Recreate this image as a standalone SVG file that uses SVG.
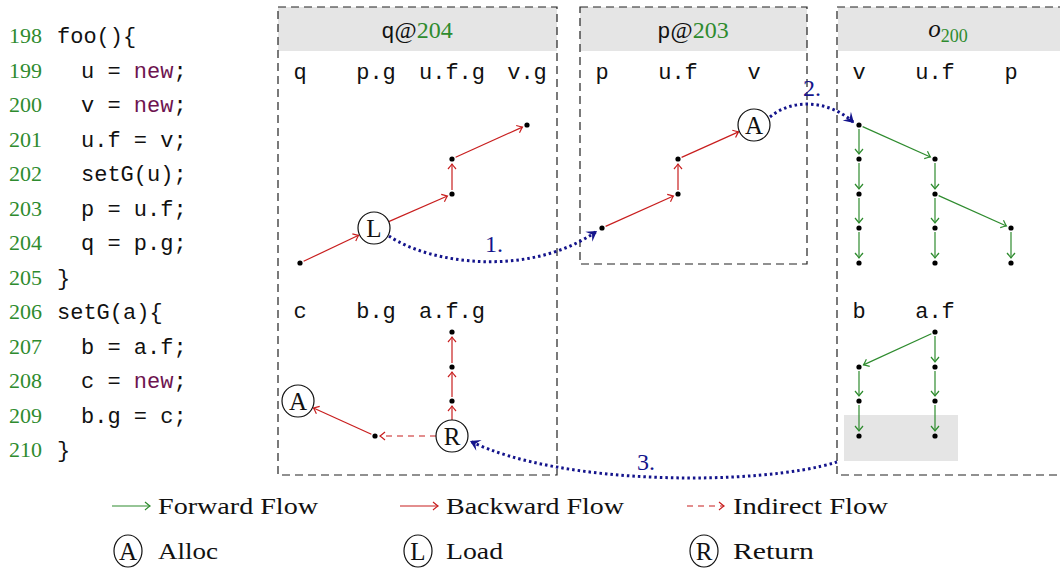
<svg xmlns="http://www.w3.org/2000/svg" width="1060" height="569" viewBox="0 0 1060 569">
<style>
.mono{font-family:"Liberation Mono","DejaVu Sans Mono",monospace;font-size:22px;fill:#111}
.serif{font-family:"Liberation Serif","DejaVu Serif",serif;font-size:24px;fill:#111}
.ln{font-family:"Liberation Serif",serif;font-size:22px;fill:#2e8b2e}
.kw{fill:#6e1450}
.grn{fill:#2e8b2e}
.panel{fill:none;stroke:#222;stroke-width:1.2;stroke-dasharray:8 5}
.hdr{fill:#e5e5e5}
.dot{fill:#000}
.circ{fill:#fff;stroke:#111;stroke-width:1.2}
.red{stroke:#c81e1e;stroke-width:1.2;fill:none;marker-end:url(#ar)}
.reddash{stroke:#c81e1e;stroke-width:1.2;fill:none;stroke-dasharray:6 5;marker-end:url(#ar)}
.green{stroke:#2e8b2e;stroke-width:1.2;fill:none;marker-end:url(#ag)}
.blue{stroke:#14148c;stroke-width:3;fill:none;stroke-dasharray:2.5 3;marker-end:url(#ab)}
.bl{font-family:"Liberation Serif",serif;font-size:24px;fill:#14148c}
.lg{font-family:"Liberation Serif",serif;font-size:24px;fill:#111}
.cl{font-family:"Liberation Serif",serif;font-size:25px;fill:#111;text-anchor:middle}
</style>
<defs>
<marker id="ar" markerUnits="userSpaceOnUse" markerWidth="12" markerHeight="12" viewBox="-8 -6 10 12" refX="0" refY="0" orient="auto">
<path d="M-5,-4 Q-1.5,-1 0,0 Q-1.5,1 -5,4" fill="none" stroke="#c81e1e" stroke-width="1.2"/>
</marker>
<marker id="ag" markerUnits="userSpaceOnUse" markerWidth="12" markerHeight="12" viewBox="-8 -6 10 12" refX="0" refY="0" orient="auto">
<path d="M-5,-4 Q-1.5,-1 0,0 Q-1.5,1 -5,4" fill="none" stroke="#2e8b2e" stroke-width="1.2"/>
</marker>
<marker id="ab" markerUnits="userSpaceOnUse" markerWidth="16" markerHeight="16" viewBox="-12 -8 14 16" refX="0" refY="0" orient="auto">
<path d="M0,0 L-10,-6 L-6,0 L-10,6 Z" fill="#14148c"/>
</marker>
</defs>

<g id="code">
<text class="ln" x="9" y="43">198</text><text class="mono" x="57" y="43">foo(){</text>
<text class="ln" x="9" y="77.5">199</text><text class="mono" x="81" y="77.5">u = <tspan class="kw">new</tspan>;</text>
<text class="ln" x="9" y="112">200</text><text class="mono" x="81" y="112">v = <tspan class="kw">new</tspan>;</text>
<text class="ln" x="9" y="146.5">201</text><text class="mono" x="81" y="146.5">u.f = v;</text>
<text class="ln" x="9" y="181">202</text><text class="mono" x="81" y="181">setG(u);</text>
<text class="ln" x="9" y="215.5">203</text><text class="mono" x="81" y="215.5">p = u.f;</text>
<text class="ln" x="9" y="250">204</text><text class="mono" x="81" y="250">q = p.g;</text>
<text class="ln" x="9" y="284.5">205</text><text class="mono" x="57" y="284.5">}</text>
<text class="ln" x="9" y="319">206</text><text class="mono" x="57" y="319">setG(a){</text>
<text class="ln" x="9" y="353.5">207</text><text class="mono" x="81" y="353.5">b = a.f;</text>
<text class="ln" x="9" y="388">208</text><text class="mono" x="81" y="388">c = <tspan class="kw">new</tspan>;</text>
<text class="ln" x="9" y="422.5">209</text><text class="mono" x="81" y="422.5">b.g = c;</text>
<text class="ln" x="9" y="457">210</text><text class="mono" x="57" y="457">}</text>
</g>

<g id="panel-q204">
<rect class="hdr" x="278" y="7" width="279" height="44"/>
<rect class="panel" x="278" y="7" width="279" height="468"/>
<text x="417" y="38" text-anchor="middle"><tspan class="mono">q</tspan><tspan class="serif">@</tspan><tspan class="serif grn">204</tspan></text>
<text class="mono" text-anchor="middle" x="300" y="79">q</text>
<text class="mono" text-anchor="middle" x="376" y="79">p.g</text>
<text class="mono" text-anchor="middle" x="452" y="79">u.f.g</text>
<text class="mono" text-anchor="middle" x="527" y="79">v.g</text>
<text class="mono" text-anchor="middle" x="300" y="318">c</text>
<text class="mono" text-anchor="middle" x="376" y="318">b.g</text>
<text class="mono" text-anchor="middle" x="452" y="318">a.f.g</text>
</g>

<g id="panel-p203">
<rect class="hdr" x="580" y="7" width="227" height="44"/>
<rect class="panel" x="580" y="7" width="227" height="257"/>
<text x="693" y="38" text-anchor="middle"><tspan class="mono">p</tspan><tspan class="serif">@</tspan><tspan class="serif grn">203</tspan></text>
<text class="mono" text-anchor="middle" x="602" y="79">p</text>
<text class="mono" text-anchor="middle" x="678" y="79">u.f</text>
<text class="mono" text-anchor="middle" x="754" y="79">v</text>
</g>

<g id="panel-o200">
<rect class="hdr" x="838" y="7" width="240" height="44"/>
<rect class="panel" x="837" y="7" width="240" height="468"/>
<rect class="hdr" x="844" y="415" width="114" height="46"/>
<text x="948" y="37" text-anchor="middle" class="serif"><tspan font-style="italic" font-size="25">o</tspan><tspan class="grn" font-size="18" dy="5">200</tspan></text>
<text class="mono" text-anchor="middle" x="859" y="79">v</text>
<text class="mono" text-anchor="middle" x="935" y="79">u.f</text>
<text class="mono" text-anchor="middle" x="1011" y="79">p</text>
<text class="mono" text-anchor="middle" x="859" y="318">b</text>
<text class="mono" text-anchor="middle" x="935" y="318">a.f</text>
</g>

<g id="connectors">
<line class="red" x1="303.6" y1="261.3" x2="358.6" y2="235.3"/>
<line class="red" x1="388.7" y1="221.6" x2="447.4" y2="196"/>
<line class="red" x1="452" y1="190" x2="452" y2="164"/>
<line class="red" x1="455.6" y1="157.3" x2="522.4" y2="127.1"/>
<line class="red" x1="452" y1="420" x2="452" y2="406"/>
<line class="red" x1="452" y1="397" x2="452" y2="372"/>
<line class="red" x1="452" y1="363" x2="452" y2="337"/>
<line class="reddash" x1="436" y1="436" x2="380" y2="436"/>
<line class="red" x1="371.4" y1="434.3" x2="313.5" y2="408"/>
<line class="red" x1="605.6" y1="226.4" x2="673.4" y2="196"/>
<line class="red" x1="678" y1="190" x2="678" y2="164"/>
<line class="red" x1="681.6" y1="157.4" x2="738.5" y2="131.9"/>
<line class="green" x1="859" y1="129" x2="859" y2="154"/>
<line class="green" x1="859" y1="163" x2="859" y2="189"/>
<line class="green" x1="859" y1="198" x2="859" y2="223"/>
<line class="green" x1="859" y1="232" x2="859" y2="258"/>
<line class="green" x1="862.6" y1="126.6" x2="930.4" y2="157"/>
<line class="green" x1="935" y1="163" x2="935" y2="189"/>
<line class="green" x1="935" y1="198" x2="935" y2="223"/>
<line class="green" x1="935" y1="232" x2="935" y2="258"/>
<line class="green" x1="938.6" y1="195.6" x2="1006.4" y2="226"/>
<line class="green" x1="1011" y1="232" x2="1011" y2="258"/>
<line class="green" x1="931.4" y1="333.7" x2="863.5" y2="364.9"/>
<line class="green" x1="935" y1="336" x2="935" y2="362"/>
<line class="green" x1="935" y1="371" x2="935" y2="396"/>
<line class="green" x1="935" y1="405" x2="935" y2="431"/>
<line class="green" x1="859" y1="371" x2="859" y2="396"/>
<line class="green" x1="859" y1="405" x2="859" y2="431"/>
<path class="blue" d="M389,236 C430,264 530,278 597,231"/>
<path class="blue" d="M770,117 C792,98 830,100 854,123"/>
<path class="blue" d="M837,462 C760,486 560,486 470,441"/>
<text class="bl" x="485" y="252">1.</text>
<text class="bl" x="803" y="96">2.</text>
<text class="bl" x="637" y="470">3.</text>
</g>

<g id="nodes">
<g id="n-q"><circle class="dot" cx="300" cy="263" r="2.6"/></g>
<g id="n-L"><circle class="circ" cx="374" cy="228" r="16"/><text class="cl" x="374" y="237">L</text></g>
<g id="n-ufg1"><circle class="dot" cx="452" cy="194" r="2.6"/></g>
<g id="n-ufg2"><circle class="dot" cx="452" cy="159" r="2.6"/></g>
<g id="n-vg"><circle class="dot" cx="527" cy="125" r="2.6"/></g>
<g id="n-afg1"><circle class="dot" cx="452" cy="332" r="2.6"/></g>
<g id="n-afg2"><circle class="dot" cx="452" cy="367" r="2.6"/></g>
<g id="n-afg3"><circle class="dot" cx="452" cy="401" r="2.6"/></g>
<g id="n-R"><circle class="circ" cx="452" cy="436" r="16"/><text class="cl" x="452" y="445">R</text></g>
<g id="n-bg"><circle class="dot" cx="375" cy="436" r="2.6"/></g>
<g id="n-A1"><circle class="circ" cx="298" cy="401" r="16"/><text class="cl" x="298" y="410">A</text></g>
<g id="n-p"><circle class="dot" cx="602" cy="228" r="2.6"/></g>
<g id="n-uf1"><circle class="dot" cx="678" cy="194" r="2.6"/></g>
<g id="n-uf2"><circle class="dot" cx="678" cy="159" r="2.6"/></g>
<g id="n-A2"><circle class="circ" cx="754" cy="125" r="16"/><text class="cl" x="754" y="134">A</text></g>
<g id="n-o-v"><circle class="dot" cx="859" cy="125" r="2.6"/><circle class="dot" cx="859" cy="159" r="2.6"/><circle class="dot" cx="859" cy="194" r="2.6"/><circle class="dot" cx="859" cy="228" r="2.6"/><circle class="dot" cx="859" cy="263" r="2.6"/></g>
<g id="n-o-uf"><circle class="dot" cx="935" cy="159" r="2.6"/><circle class="dot" cx="935" cy="194" r="2.6"/><circle class="dot" cx="935" cy="228" r="2.6"/><circle class="dot" cx="935" cy="263" r="2.6"/></g>
<g id="n-o-p"><circle class="dot" cx="1011" cy="228" r="2.6"/><circle class="dot" cx="1011" cy="263" r="2.6"/></g>
<g id="n-o-af"><circle class="dot" cx="935" cy="332" r="2.6"/><circle class="dot" cx="935" cy="367" r="2.6"/><circle class="dot" cx="935" cy="401" r="2.6"/><circle class="dot" cx="935" cy="436" r="2.6"/></g>
<g id="n-o-b"><circle class="dot" cx="859" cy="367" r="2.6"/><circle class="dot" cx="859" cy="401" r="2.6"/><circle class="dot" cx="859" cy="436" r="2.6"/></g>
</g>

<g id="legend">
<line class="green" x1="112" y1="506" x2="150" y2="506"/>
<text class="lg" x="158" y="514" textLength="160" lengthAdjust="spacingAndGlyphs">Forward Flow</text>
<line class="red" x1="400" y1="506" x2="438" y2="506"/>
<text class="lg" x="446" y="514" textLength="178" lengthAdjust="spacingAndGlyphs">Backward Flow</text>
<line class="reddash" x1="687" y1="506" x2="724" y2="506"/>
<text class="lg" x="733" y="514" textLength="155" lengthAdjust="spacingAndGlyphs">Indirect Flow</text>
<ellipse class="circ" cx="128" cy="551" rx="14" ry="16"/><text class="cl" x="128" y="560">A</text>
<text class="lg" x="158" y="559" textLength="60" lengthAdjust="spacingAndGlyphs">Alloc</text>
<ellipse class="circ" cx="418" cy="551" rx="14" ry="16"/><text class="cl" x="418" y="560">L</text>
<text class="lg" x="446" y="559" textLength="57" lengthAdjust="spacingAndGlyphs">Load</text>
<ellipse class="circ" cx="704" cy="551" rx="14" ry="16"/><text class="cl" x="704" y="560">R</text>
<text class="lg" x="733" y="559" textLength="81" lengthAdjust="spacingAndGlyphs">Return</text>
</g>
</svg>
